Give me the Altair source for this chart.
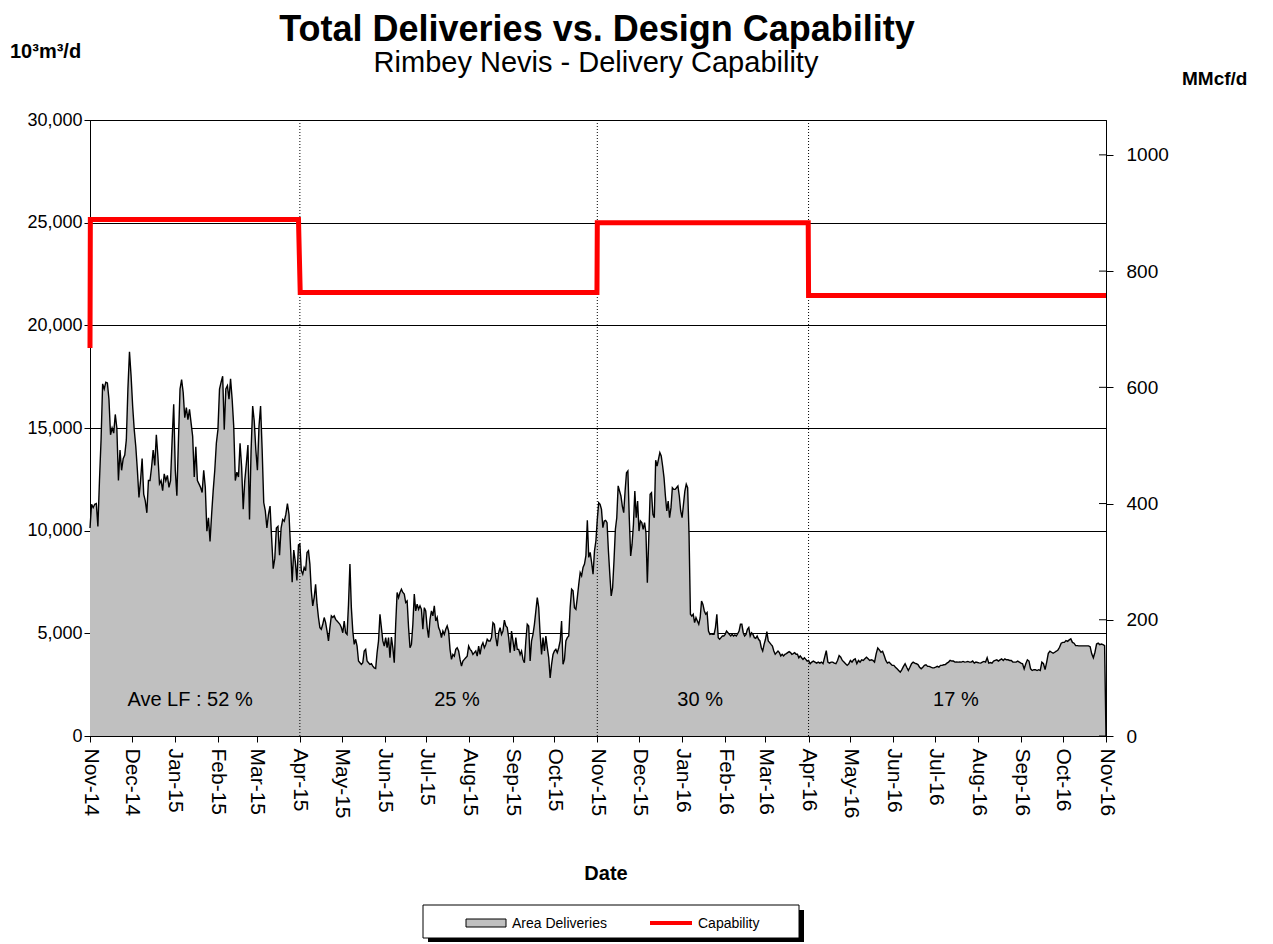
import altair as alt
import pandas as pd

# ---------------- data (10^3 m3/d) ----------------
seg_nov14_mar15 = [10130, 11290, 11120, 11290, 11320, 10210, 12440, 14420, 17150, 16900, 17230, 17190, 16400, 14670, 15000, 14750, 15660, 15000, 12440, 13930, 12940, 13510, 13680, 14420, 16900, 18710, 17560, 16070, 14920, 14090, 12940, 11620, 12440, 13510, 11780, 11450, 10870, 12440, 12440, 13100, 13930, 13180, 14670, 13600, 12280, 12440, 11950, 12770, 12440, 12690, 12110, 12440, 14420, 16160, 12940, 11700, 14420, 16900, 17360, 16730, 15500, 15990, 15410, 15910, 15250, 14590, 12610, 14090, 12440, 12280, 12110, 11860, 12940, 12110, 9970, 10630, 9470, 10790, 11950, 12940, 14260, 14920, 16900, 17230, 17520, 14920, 16900, 17060, 16400, 17390, 16400, 15080, 12440, 12850, 12610, 14260, 13100, 11040, 12440, 13270, 14170, 10540, 13930, 16070, 15330, 13930, 12940, 15080, 16070, 13930, 11370, 10960, 10130, 10790, 11200, 9640, 8150, 8650, 10130, 10210, 8810, 10130, 10540, 10460, 10790, 11320, 10790, 9140, 7490, 9060, 8480, 7570, 9310]

seg_apr15_oct15 = [9350, 8050, 7880, 8210, 8050, 8940, 9020, 8370, 7070, 6340, 6740, 7390, 6420, 5770, 5280, 5200, 5440, 5770, 5520, 5110, 4630, 5280, 5850, 5770, 5850, 5680, 5600, 5520, 5440, 5280, 5030, 5600, 5030, 4950, 6420, 8370, 6250, 5110, 4460, 4710, 4380, 3650, 3570, 3490, 3570, 4140, 4220, 3650, 3570, 3490, 3520, 3400, 3320, 3290, 4060, 4630, 5930, 5280, 4630, 4380, 4790, 4300, 4790, 3810, 4820, 4300, 3570, 5440, 6990, 6740, 6990, 7150, 6990, 6910, 6500, 6580, 5280, 4300, 4460, 5440, 6910, 6090, 6420, 6170, 6340, 6170, 5200, 6250, 6090, 5280, 4790, 5680, 6090, 5850, 6340, 5600, 5770, 5280, 5110, 4790, 5110, 4950, 5200, 5360, 5110, 4220, 3730, 3970, 3890, 4220, 4300, 4140, 3730, 3400, 3650, 3730, 3810, 3890, 4380, 4220, 4140, 3970, 4060, 4140, 3890, 4380, 3970, 4380, 4540, 4300, 4460, 4710, 4630, 4630, 4790, 5520, 5440, 4790, 4380, 5030, 5280, 4950, 5110, 5640, 5360, 5280, 4790, 4060, 5110, 4630, 4140, 4790, 4220, 4220, 3970, 4140, 3730, 3570, 4630, 5440, 5360, 3650, 4630, 4950, 5440, 6090, 6740, 6250, 4950, 3970, 4790, 4140, 4870, 4300, 3810, 2830, 3490, 3970, 4140, 4220, 4060, 4300, 4630, 5600, 3490, 3730, 4630, 4790, 4870, 6250, 7150, 7070, 6250, 6170, 6740, 7390, 7960, 7800, 8210, 8370, 8780, 10500, 8700, 8940, 8450, 7880, 9020, 9510]

seg_nov15_mar16 = [10550, 11360, 11280, 11040, 10150, 10470, 10500, 10390, 9010, 7870, 6820, 7220, 8520, 10060, 10630, 12180, 11930, 11690, 11200, 10880, 11930, 12820, 12910, 10630, 8770, 9330, 10310, 11930, 10630, 11440, 9980, 10470, 10390, 10060, 10390, 9900, 7470, 9580, 11770, 11850, 10800, 10630, 13430, 13150, 13470, 13800, 13640, 13150, 12580, 11690, 10960, 11440, 10630, 11120, 12090, 12010, 12010, 12090, 12180, 11690, 10960, 10630, 11280, 11930, 12260, 12090, 9820, 5930, 5840, 5930, 5520, 5760, 5600, 5440, 5760, 6570, 6410, 6090, 5930, 6010, 5110, 4950, 4980, 4950, 4950, 5280, 5930, 4790, 4710, 4790, 4870, 4870, 4950, 5110, 5030, 4950, 4870, 4950, 4870, 4920, 4870, 4980, 5110, 5440, 5440, 5030, 4870, 4950, 5190, 5280, 4870, 5030, 4950, 4790, 4760, 4870, 4710, 4630, 4300, 4140, 4460, 4710, 5080, 4630, 4550, 4460, 4380, 4140, 3980, 4060, 4140, 4060, 3900, 3980, 3900, 3980, 4010, 4060, 4110, 4060, 3980, 4010, 4060, 3980, 3980, 3810, 3900, 3810, 3730, 3810, 3730, 3650]

seg_apr16_oct16 = [3680, 3520, 3600, 3650, 3600, 3550, 3600, 3550, 3600, 3520, 3840, 4160, 3600, 3550, 3600, 3600, 3550, 3520, 3680, 3920, 3840, 3680, 3600, 3520, 3440, 3520, 3680, 3600, 3710, 3760, 3520, 3680, 3600, 3710, 3680, 3760, 3840, 3760, 3680, 3710, 3680, 3600, 4000, 4290, 4190, 4080, 4130, 3920, 3680, 3550, 3600, 3520, 3440, 3440, 3350, 3270, 3190, 3110, 3230, 3390, 3520, 3350, 3190, 3350, 3520, 3600, 3550, 3520, 3480, 3350, 3270, 3350, 3440, 3470, 3390, 3390, 3350, 3320, 3320, 3350, 3390, 3350, 3440, 3440, 3470, 3480, 3550, 3600, 3680, 3650, 3650, 3600, 3610, 3600, 3610, 3600, 3630, 3600, 3610, 3630, 3600, 3600, 3650, 3550, 3600, 3580, 3560, 3550, 3600, 3630, 3600, 3810, 3550, 3580, 3550, 3650, 3680, 3710, 3650, 3710, 3760, 3680, 3760, 3710, 3710, 3680, 3680, 3600, 3600, 3600, 3650, 3600, 3550, 3520, 3270, 3520, 3710, 3650, 3270, 3190, 3230, 3230, 3190, 3230, 3190, 3600, 3520, 3230, 3600, 4030, 4130, 4080, 4030, 4080, 4130, 4190, 4320, 4520, 4560, 4560, 4650, 4610, 4680, 4730, 4560, 4520, 4400, 4400, 4390, 4390, 4390, 4390, 4390, 4390, 4390, 4350, 4000, 3810, 4080, 4480, 4520, 4450, 4480, 4450, 4400]

segment_spans = [("2014-11-01", "2015-03-31"), ("2015-04-01", "2015-10-31"),
                 ("2015-11-01", "2016-03-31"), ("2016-04-01", "2016-10-31")]
final_date, final_value = "2016-11-01", 0

cap_dates = ["2014-11-01T00:00", "2014-11-01T06:00", "2015-03-31", "2015-04-01T06:00",
             "2015-10-31T18:00", "2015-11-01", "2016-03-31T18:00", "2016-04-01", "2016-11-01"]
cap_values = [18900, 25150, 25150, 21600, 21600, 25000, 25000, 21450, 21450]

separator_dates = ["2015-04-01", "2015-11-01", "2016-04-01"]

lf_labels = ["Ave LF : 52 %", "25 %", "30 %", "17 %"]
lf_dates = ["2015-01-12", "2015-07-23", "2016-01-14", "2016-07-16"]
lf_level = 1750

left_ticks = [0, 5000, 10000, 15000, 20000, 25000, 30000]
right_ticks = [0, 200, 400, 600, 800, 1000]
right_max = 1060

# ---------------- tables ----------------
def iso(ts):
    return pd.Timestamp(ts).strftime("%Y-%m-%dT%H:%M:%SZ")

rows = []
for (s, e), vals in zip(segment_spans,
                        [seg_nov14_mar15, seg_apr15_oct15, seg_nov15_mar16, seg_apr16_oct16]):
    for d, v in zip(pd.date_range(s, e, periods=len(vals)), vals):
        rows.append({"date": iso(d), "value": v})
rows.append({"date": iso(final_date), "value": final_value})
deliv = pd.DataFrame(rows)

cap_df = pd.DataFrame({"date": [iso(d) for d in cap_dates], "value": cap_values})
sep_df = pd.DataFrame({"date": [iso(d) for d in separator_dates]})
lf_df = pd.DataFrame({"date": [iso(d) for d in lf_dates], "value": [lf_level] * 4, "label": lf_labels})
right_df = pd.DataFrame({"mmcf": right_ticks})

months = pd.date_range("2014-11-01", "2016-11-01", freq="MS")
month_ms = [int(m.value // 10**6) for m in months]

FONT = "Liberation Sans"

x_scale = alt.Scale(type="utc", domain=[month_ms[0], month_ms[-1]])
x_axis = alt.Axis(values=month_ms, labelExpr="utcFormat(datum.value, '%b-%y')",
                  labelAngle=90, labelAlign="left", labelBaseline="middle",
                  labelFontSize=21, tickSize=6, labelPadding=6, grid=False,
                  title=None, domainColor="black", tickColor="black", labelColor="black",
                  labelOverlap=False)
left_axis = alt.Axis(values=left_ticks, format=",d", grid=True, gridColor="black",
                     gridWidth=1, tickSize=6, labelPadding=2, labelFontSize=18,
                     title=None, domainColor="black", tickColor="black", labelColor="black")
y_scale = alt.Scale(domain=[0, 30000])

X = alt.X("date:T", scale=x_scale, axis=x_axis)
Y = alt.Y("value:Q", scale=y_scale, axis=left_axis)

area = alt.Chart(deliv).mark_area(
    color="#c0c0c0", opacity=1, interpolate="linear",
    line={"color": "black", "strokeWidth": 1.4}
).encode(x=X, y=Y)

seps = alt.Chart(sep_df).mark_rule(color="black", strokeDash=[1, 2], strokeWidth=1).encode(x=X)

cap = alt.Chart(cap_df).mark_line(color="#ff0000", strokeWidth=5).encode(x=X, y=Y)

lf_text = alt.Chart(lf_df).mark_text(font=FONT, fontSize=20, align="center",
                                     baseline="middle", color="black").encode(
    x=X, y=Y, text="label:N")

left_group = alt.layer(area, seps, cap, lf_text)

right_axis = alt.Axis(values=right_ticks, format="d", orient="right", grid=False, tickSize=7,
                      labelPadding=13, labelFontSize=19, title=None,
                      domainColor="black", tickColor="black", labelColor="black")
RY = alt.Y("mmcf:Q", scale=alt.Scale(domain=[0, right_max]), axis=right_axis)
right_inv = alt.Chart(right_df).mark_rule(opacity=0).encode(y=RY)
right_in_ticks = alt.Chart(right_df).mark_rule(color="black", strokeWidth=1).encode(
    y=RY, x=alt.value(1009), x2=alt.value(1016))
right_group = alt.layer(right_inv, right_in_ticks)

one = pd.DataFrame({"k": [0]})

def label(txt, x, y, size, bold=False, align="center"):
    return alt.Chart(one).mark_text(
        text=txt, font=FONT, fontSize=size, fontWeight="bold" if bold else "normal",
        align=align, baseline="alphabetic", color="black"
    ).encode(x=alt.value(x), y=alt.value(y))

texts = [
    label("Total Deliveries vs. Design Capability", 507, -79, 36, bold=True),
    label("Rimbey Nevis - Delivery Capability", 506, -48, 29),
    label("10³m³/d", -80, -62, 20, bold=True, align="left"),
    label("MMcf/d", 1092, -35, 19, bold=True, align="left"),
    label("Date", 516, 760, 20, bold=True),
]

def box(x1, x2, y1, y2, **kw):
    return alt.Chart(one).mark_rect(**kw).encode(
        x=alt.value(x1), x2=alt.value(x2), y=alt.value(y1), y2=alt.value(y2))

legend = [
    box(338, 714, 790, 822, color="black"),
    box(333, 709, 785, 818, fill="white", stroke="black", strokeWidth=1),
    box(376, 416, 799, 807, fill="#c0c0c0", stroke="black", strokeWidth=1),
    label("Area Deliveries", 422, 808, 14, align="left"),
    alt.Chart(one).mark_rule(color="#ff0000", strokeWidth=4).encode(
        x=alt.value(560), x2=alt.value(602), y=alt.value(803)),
    label("Capability", 608, 808, 14, align="left"),
]

chart = alt.layer(left_group, right_group, *texts, *legend).resolve_scale(
    y="independent"
).properties(
    width=1016, height=616,
    autosize=alt.AutoSizeParams(type="none"),
    padding={"left": 82, "top": 112, "right": 159, "bottom": 210},
).configure_view(stroke="black", strokeWidth=1).configure_axis(labelFont=FONT)

chart.save("out.html", embed_options={"renderer": "svg", "actions": False})
